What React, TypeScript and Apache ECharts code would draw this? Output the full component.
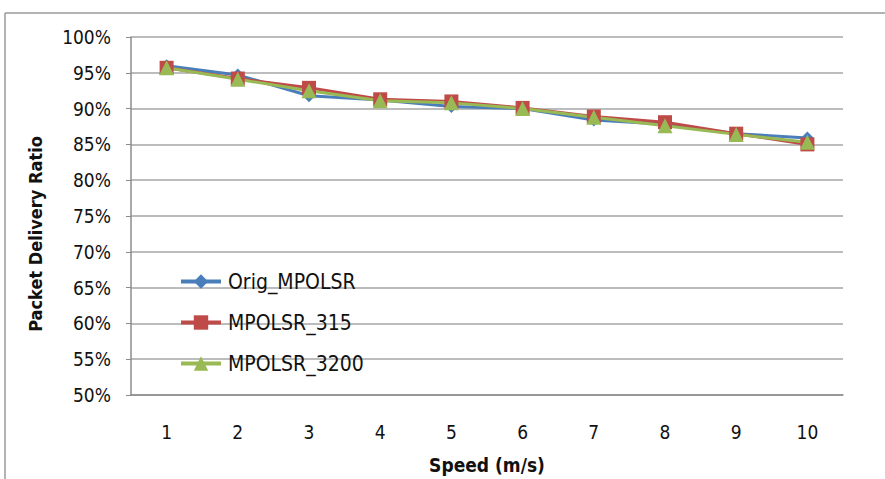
import React, { useEffect, useRef } from "react";
import * as echarts from "echarts";

const speeds = ["1", "2", "3", "4", "5", "6", "7", "8", "9", "10"];
const origMpolsr = [96.0, 94.7, 91.8, 91.2, 90.3, 90.0, 88.4, 87.8, 86.5, 85.9];
const mpolsr315 = [95.7, 94.2, 92.9, 91.3, 91.0, 90.1, 88.9, 88.1, 86.5, 85.0];
const mpolsr3200 = [95.7, 94.1, 92.5, 91.1, 90.8, 90.0, 88.8, 87.6, 86.4, 85.3];
const seriesNames = ["Orig_MPOLSR", "MPOLSR_315", "MPOLSR_3200"];
const xTitle = "Speed (m/s)";
const yTitle = "Packet Delivery Ratio";

export default function App() {
  const ref = useRef<HTMLDivElement>(null);
  useEffect(() => {
    if (!ref.current) return;
    const chart = echarts.init(ref.current, null, { renderer: "svg" });
    const font = "'Liberation Sans Narrow', 'DejaVu Sans Condensed', 'Liberation Sans', sans-serif";
    chart.setOption({
      animation: false,
      backgroundColor: "#ffffff",
      textStyle: { fontFamily: font },
      grid: { left: 131, right: 42, top: 37, bottom: 82, containLabel: false },
      legend: {
        orient: "vertical",
        left: 174,
        top: 266,
        itemGap: 20,
        itemWidth: 40,
        itemHeight: 18,
        lineStyle: { width: 4 },
        textStyle: { fontSize: 21, color: "#111", fontFamily: font, padding: [0, 0, 0, 2] },
        data: seriesNames,
      },
      xAxis: {
        type: "category",
        data: speeds,
        boundaryGap: true,
        name: xTitle,
        nameLocation: "middle",
        nameGap: 60,
        nameTextStyle: { fontSize: 19, fontWeight: "bold", color: "#111" },
        axisLine: { lineStyle: { color: "#8c8c8c", width: 1.5 } },
        axisTick: { show: false },
        axisLabel: { fontSize: 19, color: "#111", margin: 27 },
      },
      yAxis: {
        type: "value",
        min: 50,
        max: 100,
        interval: 5,
        axisLine: { show: true, lineStyle: { color: "#8c8c8c", width: 1.5 } },
        axisTick: { show: true, inside: false, length: 5, lineStyle: { color: "#8c8c8c" } },
        axisLabel: { fontSize: 19, color: "#111", margin: 20, formatter: (v: number) => v + "%" },
        splitLine: { lineStyle: { color: "#a6a6a6", width: 1.5 } },
      },
      series: [
        {
          name: seriesNames[0],
          type: "line",
          data: origMpolsr,
          symbol: "diamond",
          symbolSize: 13,
          itemStyle: { color: "#4a7ebb" },
          lineStyle: { width: 3, color: "#4a7ebb" },
        },
        {
          name: seriesNames[1],
          type: "line",
          data: mpolsr315,
          symbol: "rect",
          symbolSize: 14,
          itemStyle: { color: "#be4b48" },
          lineStyle: { width: 3, color: "#be4b48" },
        },
        {
          name: seriesNames[2],
          type: "line",
          data: mpolsr3200,
          symbol: "triangle",
          symbolSize: 15,
          itemStyle: { color: "#98b954" },
          lineStyle: { width: 3, color: "#98b954" },
        },
      ],
      graphic: [
        { type: "line", shape: { x1: 5, y1: 13, x2: 885, y2: 13 }, style: { stroke: "#9a9a9a", lineWidth: 1.5 } },
        { type: "line", shape: { x1: 5, y1: 13, x2: 5, y2: 479 }, style: { stroke: "#9a9a9a", lineWidth: 1.5 } },
        {
          type: "text",
          x: 35,
          y: 234,
          rotation: Math.PI / 2,
          style: {
            text: yTitle,
            font: "bold 18px " + font,
            fill: "#111",
            align: "center",
            verticalAlign: "middle",
          },
        },
      ],
    });
    return () => chart.dispose();
  }, []);
  return (
    <div
      ref={ref}
      style={{ position: "fixed", left: 0, top: 0, width: 885, height: 479 }}
    />
  );
}
